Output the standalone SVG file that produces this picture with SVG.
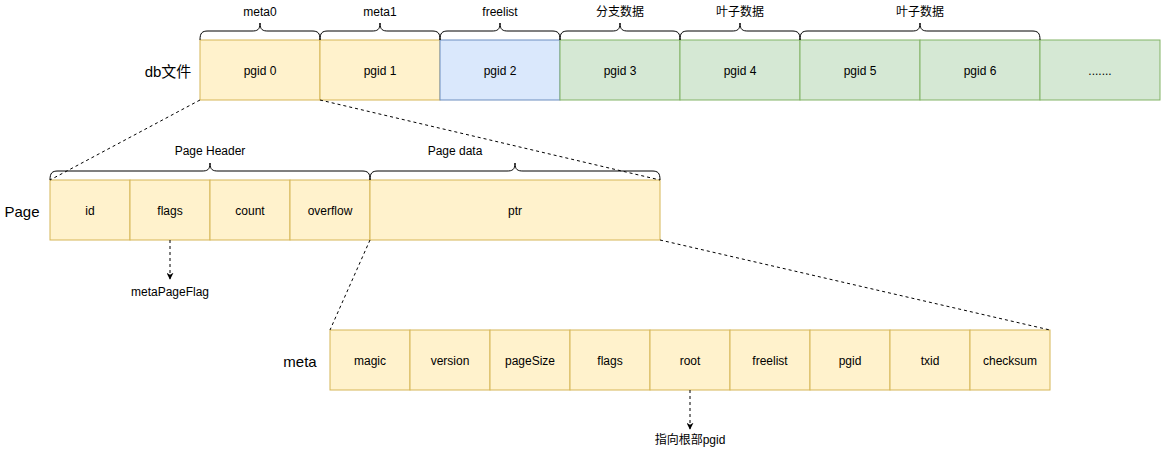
<svg xmlns="http://www.w3.org/2000/svg" width="1161" height="451" viewBox="0 0 1161 451">
<defs>
<style>
text{font-family:"Liberation Sans","Noto Sans CJK SC",sans-serif;font-size:12px;fill:#000;text-anchor:middle;dominant-baseline:central}
.lbl{font-size:15px}
.y{fill:#fff2cc;stroke:#d6b656}
.b{fill:#dae8fc;stroke:#6c8ebf}
.g{fill:#d5e8d4;stroke:#82b366}
.brace{fill:none;stroke:#000;stroke-width:1}
.dash{fill:none;stroke:#000;stroke-dasharray:3 3}
</style>
<marker id="ah" viewBox="0 0 10 10" refX="9" refY="5" markerWidth="7" markerHeight="7" orient="auto" markerUnits="userSpaceOnUse">
<path d="M0,0 L10,5 L0,10 L3,5 Z" fill="#000"/>
</marker>
</defs>
<rect width="1161" height="451" fill="#fff"/>

<g id="db-row">
<text class="lbl" x="168" y="71">db文件</text>
<g id="pgid0"><rect class="y" x="200" y="40" width="120" height="60"/><text x="260" y="71">pgid 0</text></g>
<g id="pgid1"><rect class="y" x="320" y="40" width="120" height="60"/><text x="380" y="71">pgid 1</text></g>
<g id="pgid2"><rect class="b" x="440" y="40" width="120" height="60"/><text x="500" y="71">pgid 2</text></g>
<g id="pgid3"><rect class="g" x="560" y="40" width="120" height="60"/><text x="620" y="71">pgid 3</text></g>
<g id="pgid4"><rect class="g" x="680" y="40" width="120" height="60"/><text x="740" y="71">pgid 4</text></g>
<g id="pgid5"><rect class="g" x="800" y="40" width="120" height="60"/><text x="860" y="71">pgid 5</text></g>
<g id="pgid6"><rect class="g" x="920" y="40" width="120" height="60"/><text x="980" y="71">pgid 6</text></g>
<g id="pgidN"><rect class="g" x="1040" y="40" width="120" height="60"/><text x="1100" y="71">.......</text></g>
</g>

<g id="top-braces">
<path class="brace" d="M200,40 C200,33 202,31 208,31 L252,31 C257,31 260,30 260,23 C260,30 263,31 268,31 L312,31 C318,31 320,33 320,40"/>
<text x="260" y="12">meta0</text>
<path class="brace" d="M320,40 C320,33 322,31 328,31 L372,31 C377,31 380,30 380,23 C380,30 383,31 388,31 L432,31 C438,31 440,33 440,40"/>
<text x="380" y="12">meta1</text>
<path class="brace" d="M440,40 C440,33 442,31 448,31 L492,31 C497,31 500,30 500,23 C500,30 503,31 508,31 L552,31 C558,31 560,33 560,40"/>
<text x="500" y="12">freelist</text>
<path class="brace" d="M560,40 C560,33 562,31 568,31 L612,31 C617,31 620,30 620,23 C620,30 623,31 628,31 L672,31 C678,31 680,33 680,40"/>
<text x="620" y="12">分支数据</text>
<path class="brace" d="M680,40 C680,33 682,31 688,31 L732,31 C737,31 740,30 740,23 C740,30 743,31 748,31 L792,31 C798,31 800,33 800,40"/>
<text x="740" y="12">叶子数据</text>
<path class="brace" d="M800,40 C800,33 802,31 808,31 L912,31 C917,31 920,30 920,23 C920,30 923,31 928,31 L1032,31 C1038,31 1040,33 1040,40"/>
<text x="920" y="12">叶子数据</text>
</g>

<g id="page-row">
<text class="lbl" x="22" y="211">Page</text>
<g id="f-id"><rect class="y" x="50" y="180" width="80" height="60"/><text x="90" y="211">id</text></g>
<g id="f-flags"><rect class="y" x="130" y="180" width="80" height="60"/><text x="170" y="211">flags</text></g>
<g id="f-count"><rect class="y" x="210" y="180" width="80" height="60"/><text x="250" y="211">count</text></g>
<g id="f-overflow"><rect class="y" x="290" y="180" width="80" height="60"/><text x="330" y="211">overflow</text></g>
<g id="f-ptr"><rect class="y" x="370" y="180" width="290" height="60"/><text x="515" y="211">ptr</text></g>
</g>

<g id="page-braces">
<path class="brace" d="M50,180 C50,173 52,171 58,171 L202,171 C207,171 210,170 210,163 C210,170 213,171 218,171 L362,171 C368,171 370,173 370,180"/>
<text x="210" y="151">Page Header</text>
<path class="brace" d="M370,180 C370,173 372,171 378,171 L507,171 C512,171 515,170 515,163 C515,170 518,171 523,171 L652,171 C658,171 660,173 660,180"/>
<text x="455" y="151">Page data</text>
</g>

<g id="meta-row">
<text class="lbl" x="300" y="361">meta</text>
<g id="m-magic"><rect class="y" x="330" y="330" width="80" height="60"/><text x="370" y="361">magic</text></g>
<g id="m-version"><rect class="y" x="410" y="330" width="80" height="60"/><text x="450" y="361">version</text></g>
<g id="m-pageSize"><rect class="y" x="490" y="330" width="80" height="60"/><text x="530" y="361">pageSize</text></g>
<g id="m-flags"><rect class="y" x="570" y="330" width="80" height="60"/><text x="610" y="361">flags</text></g>
<g id="m-root"><rect class="y" x="650" y="330" width="80" height="60"/><text x="690" y="361">root</text></g>
<g id="m-freelist"><rect class="y" x="730" y="330" width="80" height="60"/><text x="770" y="361">freelist</text></g>
<g id="m-pgid"><rect class="y" x="810" y="330" width="80" height="60"/><text x="850" y="361">pgid</text></g>
<g id="m-txid"><rect class="y" x="890" y="330" width="80" height="60"/><text x="930" y="361">txid</text></g>
<g id="m-checksum"><rect class="y" x="970" y="330" width="80" height="60"/><text x="1010" y="361">checksum</text></g>
</g>

<g id="connectors">
<line class="dash" x1="200" y1="100" x2="50" y2="180"/>
<line class="dash" x1="320" y1="100" x2="660" y2="180"/>
<line class="dash" x1="370" y1="240" x2="330" y2="330"/>
<line class="dash" x1="660" y1="240" x2="1050" y2="330"/>
<line class="dash" x1="170" y1="240" x2="170" y2="279" marker-end="url(#ah)"/>
<line class="dash" x1="690" y1="390" x2="690" y2="429" marker-end="url(#ah)"/>
</g>

<g id="notes">
<text x="170" y="292">metaPageFlag</text>
<text x="690" y="440">指向根部pgid</text>
</g>
</svg>
